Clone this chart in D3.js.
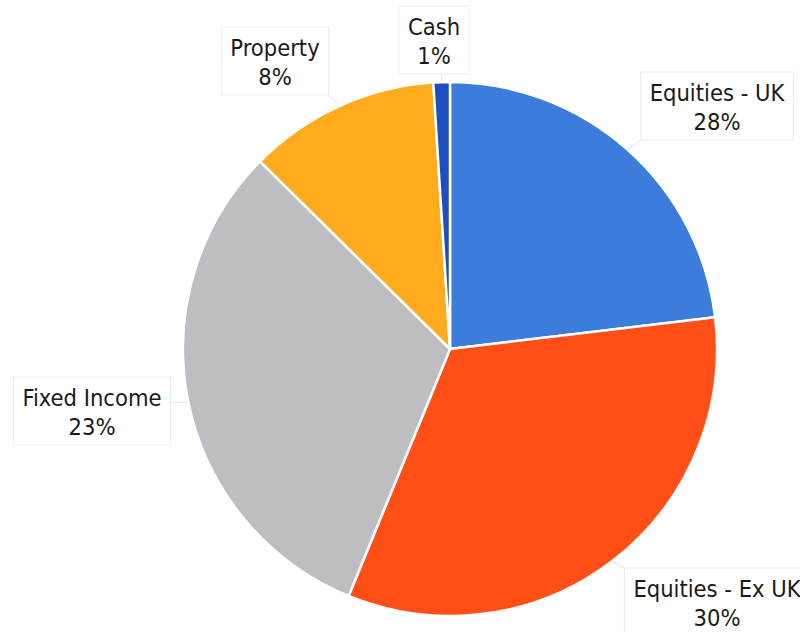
<!DOCTYPE html>
<html>
<head>
<meta charset="utf-8">
<script src="https://cdn.jsdelivr.net/npm/d3@7"></script>
<style>
	body { margin: 0; background: #fff; }
	svg text { font-family: "DejaVu Sans Condensed", "DejaVu Sans", sans-serif; fill: #1a1a1a; }
</style>
</head>
<body>
<div id="chart"></div>
<script>
// slice shares (degrees / 3.6)
var categories = ["Equities - UK", "Equities - Ex UK", "Fixed Income", "Property", "Cash"];
var shares = [23.1, 33.1, 31.2, 11.6, 1.0];
// label text as printed on the chart
var pctLabels = ["28%", "30%", "23%", "8%", "1%"];
var colors = ["#3c7ddb", "#ff4f17", "#bdbdc2", "#ffab1e", "#1e4fc0"];
// label centres (x, y of first line)
var labelPos = [[717, 93], [717, 589], [92, 398], [275, 48], [434, 27]];

var width = 800, height = 632;
var cx = 450, cy = 349, radius = 267;
var lineGap = 29;

var svg = d3.select("#chart").append("svg")
	.attr("width", width)
	.attr("height", height);

var data = categories.map(function(c, i){
	return {name: c, value: shares[i], pct: pctLabels[i], color: colors[i], pos: labelPos[i]};
});

var pie = d3.pie().sort(null).value(function(d){ return d.value; });
var arc = d3.arc().innerRadius(0).outerRadius(radius);
var arcs = pie(data);

var leaders = svg.append("g");

var g = svg.append("g").attr("transform", "translate(" + cx + "," + cy + ")");

g.selectAll("path")
	.data(arcs)
	.enter().append("path")
	.attr("d", arc)
	.attr("fill", function(d){ return d.data.color; })
	.attr("stroke", "#fff")
	.attr("stroke-width", 2.5)
	.attr("stroke-linejoin", "round");

// labels in faint boxes
var lab = svg.selectAll(".lab")
	.data(arcs)
	.enter().append("g")
	.attr("class", "lab");

lab.each(function(a){
	var d = a.data;
	var el = d3.select(this);
	var t1 = el.append("text")
		.attr("x", d.pos[0]).attr("y", d.pos[1])
		.attr("text-anchor", "middle")
		.attr("dy", "0.35em")
		.attr("font-size", 23.5)
		.text(d.name);
	var t2 = el.append("text")
		.attr("x", d.pos[0]).attr("y", d.pos[1] + lineGap)
		.attr("text-anchor", "middle")
		.attr("dy", "0.35em")
		.attr("font-size", 23.5)
		.text(d.pct);
	var w = Math.max(t1.node().getComputedTextLength(), t2.node().getComputedTextLength()) + 18;
	var bx = d.pos[0] - w / 2, by = d.pos[1] - 21, bh = 68;
	el.insert("rect", "text")
		.attr("x", bx)
		.attr("y", by)
		.attr("width", w)
		.attr("height", bh)
		.attr("fill", "#fff")
		.attr("stroke", "#ebebeb")
		.attr("stroke-width", 1);

	// faint leader from box to slice edge
	var mid = (a.startAngle + a.endAngle) / 2;
	var px = cx + Math.sin(mid) * radius, py = cy - Math.cos(mid) * radius;
	var qx = Math.max(bx, Math.min(bx + w, px)), qy = Math.max(by, Math.min(by + bh, py));
	leaders.append("line")
		.attr("x1", qx).attr("y1", qy)
		.attr("x2", px).attr("y2", py)
		.attr("stroke", "#e2e2e2")
		.attr("stroke-width", 1);
});
</script>
</body>
</html>
